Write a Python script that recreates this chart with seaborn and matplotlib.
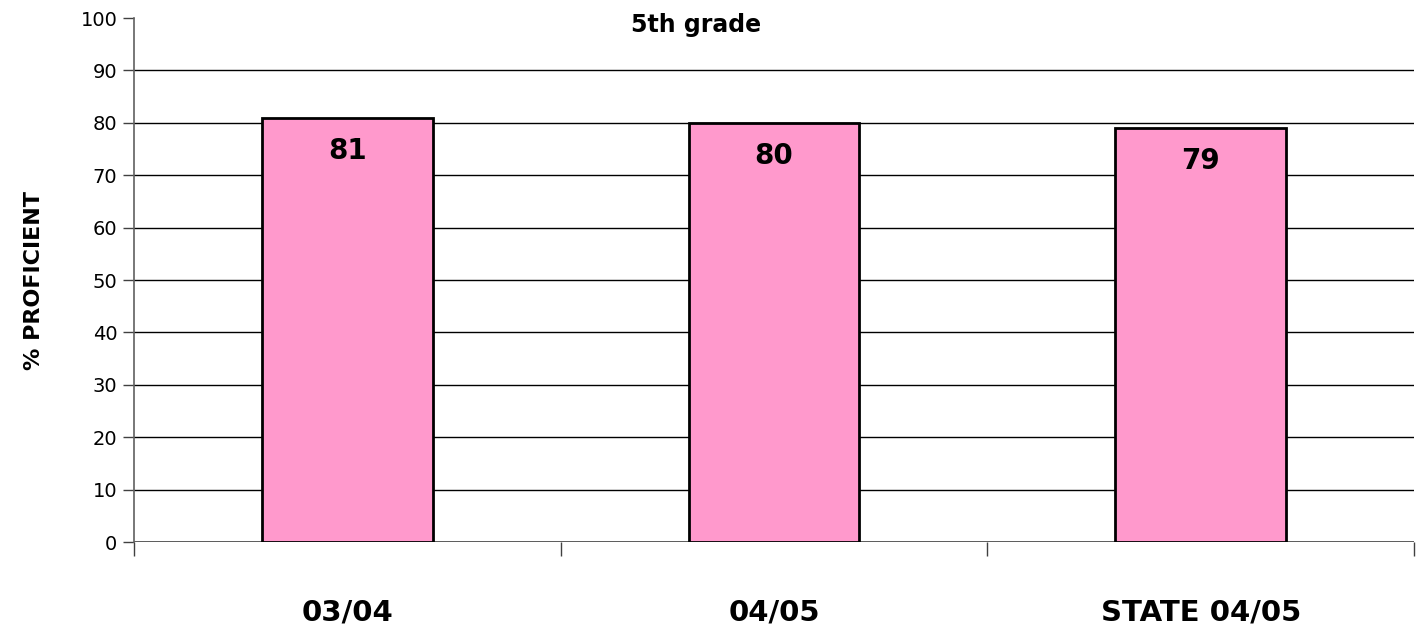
import matplotlib
matplotlib.use("Agg")
import matplotlib.pyplot as plt
import seaborn as sns
import numpy as np

# chart data
categories = ["03/04", "04/05", "STATE 04/05"]
proficient = [81, 80, 79]
y_ticks = list(range(0, 101, 10))

sns.set_style("white")
plt.rcParams['font.family'] = ['DejaVu Sans']
plt.rcParams['text.color'] = 'black'
plt.rcParams['axes.labelcolor'] = 'black'
plt.rcParams['xtick.color'] = 'black'
plt.rcParams['ytick.color'] = 'black'

fig = plt.figure(figsize=(14.21, 6.34), dpi=100)
ax = fig.add_axes([134 / 1421, 92 / 634, 1280 / 1421, 524 / 634])

sns.barplot(x=categories, y=proficient, color="#FF99CC", width=0.4,
            edgecolor="black", linewidth=2, saturation=1, ax=ax, zorder=3)

# value labels inside the bars, near the top
for i, v in enumerate(proficient):
    ax.text(i, v - 6.3, str(v), ha="center", va="center",
            fontsize=20, fontweight="bold", color="black", zorder=4)

ax.set_ylim(0, 100)
ax.set_xlim(-0.5, len(categories) - 0.5)
ax.set_yticks(y_ticks)
ax.set_yticklabels([str(t) for t in y_ticks], fontsize=14)
for t in y_ticks[1:-1]:
    ax.axhline(t, color="black", linewidth=1, zorder=1)
ax.axhline(0, color="#404040", linewidth=1.2, zorder=2)

# category labels with tick marks on the boundaries
ax.set_xticks(np.arange(len(categories) + 1) - 0.5, minor=False)
ax.set_xticklabels([])
ax.set_xticks(np.arange(len(categories)), minor=True)
ax.set_xticklabels(categories, minor=True, fontsize=21, fontweight="bold")
ax.tick_params(axis="x", which="minor", length=0, pad=41, bottom=True)
ax.tick_params(axis="x", which="major", length=10, width=1, color="#404040",
               direction="out", bottom=True)
ax.tick_params(axis="y", length=8, width=1, color="#404040", direction="out",
               pad=4, left=True, labelcolor="black")

for side in ["top", "right"]:
    ax.spines[side].set_visible(False)
ax.spines["bottom"].set_visible(False)
ax.spines["left"].set_color("#606060")
ax.spines["left"].set_linewidth(1.2)

ax.set_ylabel("% PROFICIENT", fontsize=16, fontweight="bold", labelpad=26)
ax.set_xlabel("")
fig.text(696 / 1421, 1 - 25 / 634, "5th grade", ha="center", va="center",
         fontsize=17, fontweight="bold")

fig.savefig("out.png", dpi=100)
